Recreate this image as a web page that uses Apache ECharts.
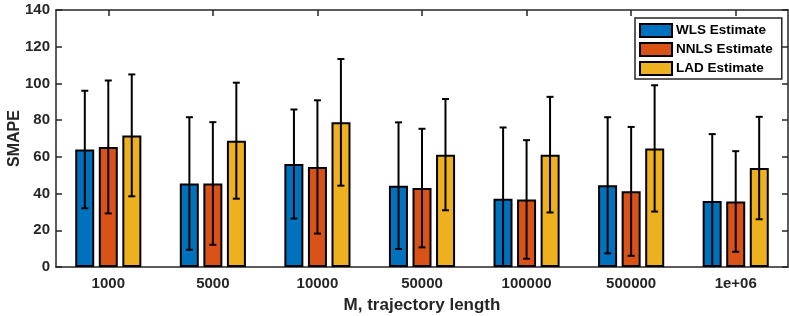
<!DOCTYPE html>
<html>
<head>
<meta charset="utf-8">
<script src="https://cdn.jsdelivr.net/npm/echarts@6/dist/echarts.min.js"></script>
<style>
html,body{margin:0;padding:0;background:#fff;}
#chart{width:789px;height:316px;}
</style>
</head>
<body>
<div id="chart"></div>
<script>
// ---- data ----
var categories = ['1000', '5000', '10000', '50000', '100000', '500000', '1e+06'];
var seriesNames = ['WLS Estimate', 'NNLS Estimate', 'LAD Estimate'];
var wlsMean  = [64.0, 45.5, 56.1, 44.3, 37.2, 44.5, 36.0];
var nnlsMean = [65.4, 45.5, 54.5, 43.0, 36.8, 41.2, 35.7];
var ladMean  = [71.7, 68.8, 78.8, 61.2, 61.2, 64.6, 53.9];
var wlsErr   = [32.0, 36.1, 29.7, 34.5, 38.8, 37.1, 36.4];
var nnlsErr  = [36.2, 33.4, 36.3, 32.3, 32.3, 35.1, 27.4];
var ladErr   = [33.2, 31.6, 34.5, 30.3, 31.5, 34.4, 27.9];
var colors = ['#0072BD', '#D95319', '#EDB120'];

var FONT = "'Liberation Sans', Arial, Helvetica, sans-serif";
var AXC = '#262626';

var means = [wlsMean, nnlsMean, ladMean];
var errs = [wlsErr, nnlsErr, ladErr];

var chart = echarts.init(document.getElementById('chart'), null, {renderer: 'canvas'});

var series = [];
for (var k = 0; k < 3; k++) {
  series.push({
    name: seriesNames[k],
    type: 'bar',
    data: means[k],
    barWidth: 19,
    barGap: '24%',
    itemStyle: {color: colors[k], borderColor: '#000', borderWidth: 2},
    emphasis: {disabled: true},
    z: 2
  });
}
for (var k2 = 0; k2 < 3; k2++) {
  (function (k) {
    var d = [];
    for (var i = 0; i < categories.length; i++) d.push([i, means[k][i], errs[k][i]]);
    series.push({
      type: 'custom',
      name: seriesNames[k] + ' err',
      data: d,
      encode: {x: 0, y: 1},
      z: 5,
      silent: true,
      renderItem: function (params, api) {
        var i = api.value(0), m = api.value(1), e = api.value(2);
        var band = api.size([1, 0])[0];
        var off = (k - 1) * band * 0.2245;
        var lo = m - e;
        var top = api.coord([i, m + e]);
        var bot = api.coord([i, Math.max(0, lo)]);
        var x = top[0] + off;
        var cap = 3.5;
        var st = {stroke: '#000', lineWidth: 2};
        var ch = [
          {type: 'line', shape: {x1: x, y1: top[1], x2: x, y2: bot[1]}, style: st},
          {type: 'line', shape: {x1: x - cap, y1: top[1], x2: x + cap, y2: top[1]}, style: st}
        ];
        if (lo >= 0) ch.push({type: 'line', shape: {x1: x - cap, y1: bot[1], x2: x + cap, y2: bot[1]}, style: st});
        return {type: 'group', children: ch};
      }
    });
  })(k2);
}

var axisLineStyle = {color: AXC, width: 1.5};
var labelStyle = {color: AXC, fontFamily: FONT, fontWeight: 'bold', fontSize: 15};

chart.setOption({
  animation: false,
  backgroundColor: '#fff',
  textStyle: {fontFamily: FONT},
  grid: {left: 56, right: 1, top: 10, bottom: 49, containLabel: false, outerBoundsMode: 'none'},
  legend: {
    data: seriesNames,
    orient: 'vertical',
    left: 635,
    top: 18,
    icon: 'rect',
    itemWidth: 32,
    itemHeight: 13,
    itemGap: 4,
    padding: [5, 9, 3, 4],
    backgroundColor: '#fff',
    borderColor: AXC,
    borderWidth: 1.5,
    selectedMode: false,
    textStyle: {color: '#000', fontFamily: FONT, fontWeight: 'bold', fontSize: 13.5, lineHeight: 14, padding: [0, 0, 0, -1]}
  },
  xAxis: [{
    type: 'category',
    data: categories,
    position: 'bottom',
    name: 'M, trajectory length',
    nameLocation: 'middle',
    nameGap: 30,
    nameMoveOverlap: false,
    nameTextStyle: {color: AXC, fontFamily: FONT, fontWeight: 'bold', fontSize: 17},
    axisLine: {show: true, onZero: false, lineStyle: axisLineStyle},
    axisTick: {show: true, inside: true, alignWithLabel: true, length: 6, lineStyle: axisLineStyle},
    axisLabel: Object.assign({margin: 9}, labelStyle),
    splitLine: {show: false}
  }, {
    type: 'category',
    data: categories,
    position: 'top',
    axisLine: {show: true, onZero: false, lineStyle: axisLineStyle},
    axisTick: {show: true, inside: true, alignWithLabel: true, length: 6, lineStyle: axisLineStyle},
    axisLabel: {show: false},
    splitLine: {show: false}
  }],
  yAxis: [{
    type: 'value',
    min: 0,
    max: 140,
    interval: 20,
    position: 'left',
    name: 'SMAPE',
    nameLocation: 'middle',
    nameGap: 33,
    nameMoveOverlap: false,
    nameTextStyle: {color: AXC, fontFamily: FONT, fontWeight: 'bold', fontSize: 16},
    axisLine: {show: true, onZero: false, lineStyle: axisLineStyle},
    axisTick: {show: true, inside: true, length: 6, lineStyle: axisLineStyle},
    axisLabel: Object.assign({margin: 6}, labelStyle),
    splitLine: {show: false}
  }, {
    type: 'value',
    min: 0,
    max: 140,
    interval: 20,
    position: 'right',
    axisLine: {show: true, onZero: false, lineStyle: axisLineStyle},
    axisTick: {show: true, inside: true, length: 6, lineStyle: axisLineStyle},
    axisLabel: {show: false},
    splitLine: {show: false}
  }],
  series: series
});
</script>
</body>
</html>
